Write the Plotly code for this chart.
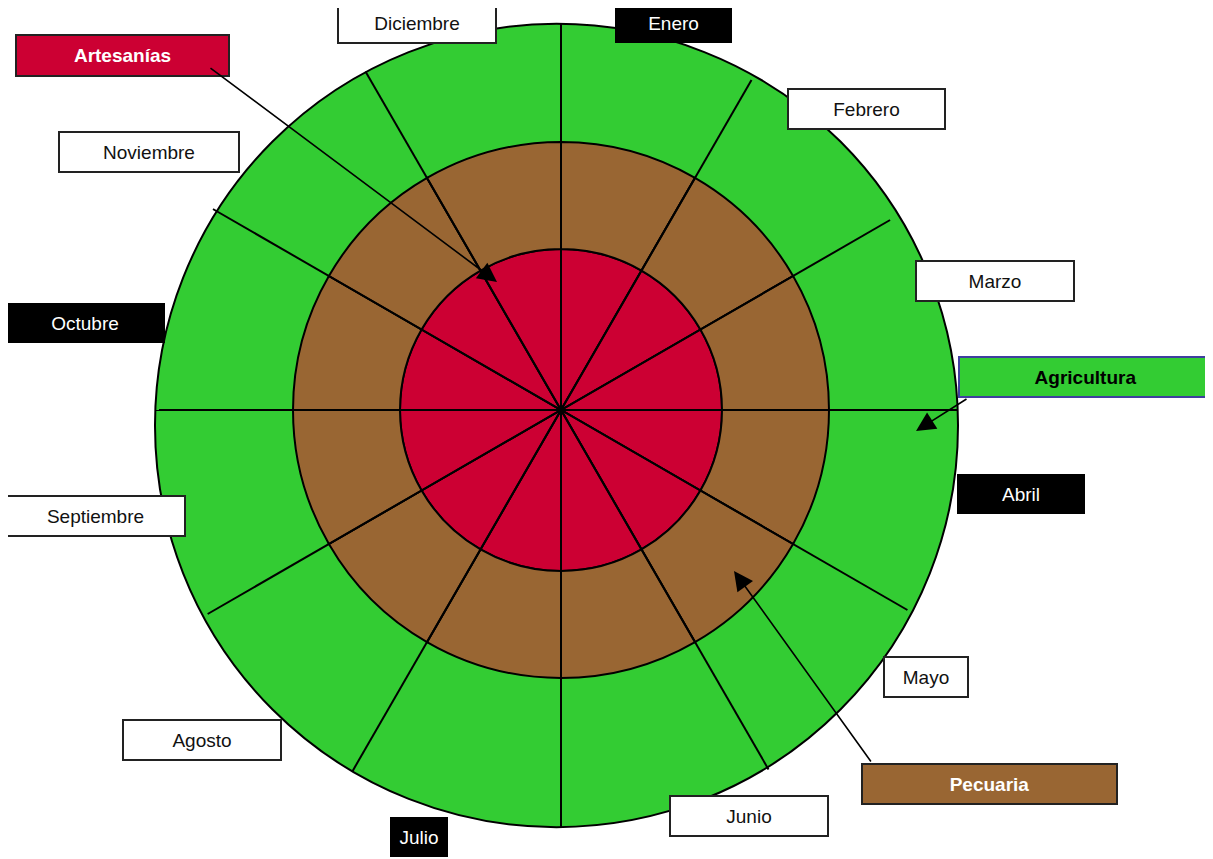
import plotly.graph_objects as go

# page body has an 8px margin; the figure fills the rest of the 1213x859 window
OFF = 8
W, H = 1213 - OFF, 859 - OFF

# ---------------- data ----------------
months = ["Enero", "Febrero", "Marzo", "Abril", "Mayo", "Junio",
          "Julio", "Agosto", "Septiembre", "Octubre", "Noviembre", "Diciembre"]
# sector centres (degrees, counter-clockwise from east), clockwise from top
sector_theta = [75, 45, 15, 345, 315, 285, 255, 225, 195, 165, 135, 105]
sector_width = [30] * 12
ring_artesanias = [161] * 12          # inner ring radius (px units)
ring_pecuaria = [107] * 12            # brown ring thickness
agricultura_radius = [401.5]          # outer green disk
spoke_angles = [0, 30, 60, 90, 120, 150, 180, 210, 240, 270, 300, 330]
spoke_lengths = [397, 380, 381, 386, 391, 404, 406, 408, 417, 417, 415, 400]

activities = ["Artesanías", "Agricultura", "Pecuaria"]
activity_colors = ["#CC0033", "#33CC33", "#996633"]

GREEN, BROWN, RED = "#33CC33", "#996633", "#CC0033"
FONT = "Liberation Sans, Arial, sans-serif"
FS = 19


def px(x, y):
    return (x - OFF) / W, 1 - (y - OFF) / H


fig = go.Figure()

# outer green disk (own polar, slightly offset centre as in the reference)
fig.add_trace(go.Barpolar(r=agricultura_radius, theta=[0], width=[360], base=0,
                          marker=dict(color=GREEN, line=dict(width=0)),
                          subplot="polar", hoverinfo="skip", showlegend=False))

# inner rings + spokes, drawn as an upper half (polar2) and a lower half (polar3)
halves = {"polar2": (0, 180), "polar3": (180, 360)}
for sp, (a0, a1) in halves.items():
    idx = [i for i, t in enumerate(sector_theta) if a0 < t < a1]
    th = [sector_theta[i] for i in idx]
    wd = [sector_width[i] for i in idx]
    tx = [months[i] for i in idx]
    fig.add_trace(go.Barpolar(r=[ring_artesanias[i] for i in idx], theta=th, width=wd,
                              marker=dict(color=RED, line=dict(color="black", width=2)),
                              subplot=sp, text=tx, hoverinfo="text", showlegend=False))
    fig.add_trace(go.Barpolar(r=[ring_pecuaria[i] for i in idx], theta=th, width=wd,
                              marker=dict(color=BROWN, line=dict(color="black", width=2)),
                              subplot=sp, text=tx, hoverinfo="text", showlegend=False))
    sr, st = [], []
    for a, L in zip(spoke_angles, spoke_lengths):
        if a0 <= a <= a1 or (a1 == 360 and a == 0):
            sr += [0, L, None]
            st += [a, a, None]
    fig.add_trace(go.Scatterpolar(r=sr, theta=st, mode="lines",
                                  line=dict(color="black", width=2),
                                  subplot=sp, hoverinfo="skip", showlegend=False))

# domains
cx1, cy1, R1 = 556.5, 425.5, 401.5      # green disk
cx2, cy2 = 561, 410                      # rings / spokes centre
Rt, Rb = 402, 420                        # radii of upper / lower half plots

x0, y1_ = px(cx1 - R1, cy1 - R1)
x1, y0_ = px(cx1 + R1, cy1 + R1)
tx0, ty1 = px(cx2 - Rt, cy2 - Rt)
tx1, ty0 = px(cx2 + Rt, cy2)
bx0, by1 = px(cx2 - Rb, cy2)
bx1, by0 = px(cx2 + Rb, cy2 + Rb)

hidden_radial = dict(visible=False, showgrid=False, showticklabels=False, ticks="")
hidden_ang = dict(showline=False, showgrid=False, showticklabels=False, ticks="")
fig.update_layout(
    width=W, height=H, margin=dict(l=0, r=0, t=0, b=0),
    paper_bgcolor="white", plot_bgcolor="white",
    polar=dict(domain=dict(x=[x0, x1], y=[y0_, y1_]), bgcolor="rgba(0,0,0,0)",
               radialaxis=dict(range=[0, R1], **hidden_radial),
               angularaxis=dict(showline=True, linecolor="black", linewidth=2,
                                showgrid=False, showticklabels=False, ticks="")),
    polar2=dict(domain=dict(x=[tx0, tx1], y=[ty0, min(ty1, 1)]), sector=[0, 180],
                bgcolor="rgba(0,0,0,0)", barmode="stack",
                radialaxis=dict(range=[0, Rt], **hidden_radial),
                angularaxis=hidden_ang),
    polar3=dict(domain=dict(x=[bx0, bx1], y=[max(by0, 0), by1]), sector=[180, 360],
                bgcolor="rgba(0,0,0,0)", barmode="stack",
                radialaxis=dict(range=[0, Rb], **hidden_radial),
                angularaxis=hidden_ang),
)

# month label boxes: (left, top, right, bottom) in px, style
month_boxes = {
    "Diciembre": (337, 3, 497, 44),
    "Enero": (615, 3, 732, 43),
    "Febrero": (787, 88, 946, 130),
    "Marzo": (915, 260, 1075, 302),
    "Abril": (957, 474, 1085, 514),
    "Mayo": (883, 656, 969, 698),
    "Junio": (669, 795, 829, 837),
    "Julio": (390, 817, 448, 857),
    "Agosto": (122, 719, 282, 761),
    "Septiembre": (5, 495, 186, 537),
    "Octubre": (5, 303, 165, 343),
    "Noviembre": (58, 131, 240, 173),
}
dark_months = {"Enero", "Abril", "Julio", "Octubre"}

annotations = []
for m in months:
    l, t, r, b = month_boxes[m]
    xx, yy = px((l + r) / 2, (t + b) / 2)
    dark = m in dark_months
    annotations.append(dict(
        text=m, x=xx, y=yy, xref="paper", yref="paper", xanchor="center", yanchor="middle",
        showarrow=False, width=r - l - 4, height=b - t - 4, align="center", valign="middle",
        bgcolor="black" if dark else "white",
        bordercolor="black" if dark else "#222222", borderwidth=2, borderpad=0,
        font=dict(family=FONT, size=FS, color="white" if dark else "#111111")))

# activity boxes
act_boxes = {
    "Artesanías": (15, 34, 230, 77),
    "Agricultura": (958, 356, 1213, 398),
    "Pecuaria": (861, 763, 1118, 805),
}
act_border = {"Artesanías": "#222222", "Agricultura": "#3F3F9F", "Pecuaria": "#222222"}
act_text = {"Artesanías": "white", "Agricultura": "black", "Pecuaria": "white"}
for name, col in zip(activities, activity_colors):
    l, t, r, b = act_boxes[name]
    xx, yy = px((l + r) / 2, (t + b) / 2)
    annotations.append(dict(
        text="<b>" + name + "</b>", x=xx, y=yy, xref="paper", yref="paper",
        xanchor="center", yanchor="middle", showarrow=False,
        width=r - l - 4, height=b - t - 4, align="center", valign="middle",
        bgcolor=col, bordercolor=act_border[name], borderwidth=2, borderpad=0,
        font=dict(family=FONT, size=FS, color=act_text[name])))

# arrows: (tip, tail) in px
arrows = {
    "Artesanías": ((497, 282), (209, 67)),
    "Agricultura": ((916, 431), (968, 398)),
    "Pecuaria": ((734, 571), (872, 763)),
}
for name in activities:
    (hx, hy), (tx, ty) = arrows[name]
    xx, yy = px(hx, hy)
    annotations.append(dict(
        text="", x=xx, y=yy, xref="paper", yref="paper", showarrow=True,
        ax=tx - hx, ay=ty - hy, axref="pixel", ayref="pixel",
        arrowhead=2, arrowsize=2.4, arrowwidth=1.6, arrowcolor="black", standoff=0))

fig.update_layout(annotations=annotations)
fig.write_html("out.html")
